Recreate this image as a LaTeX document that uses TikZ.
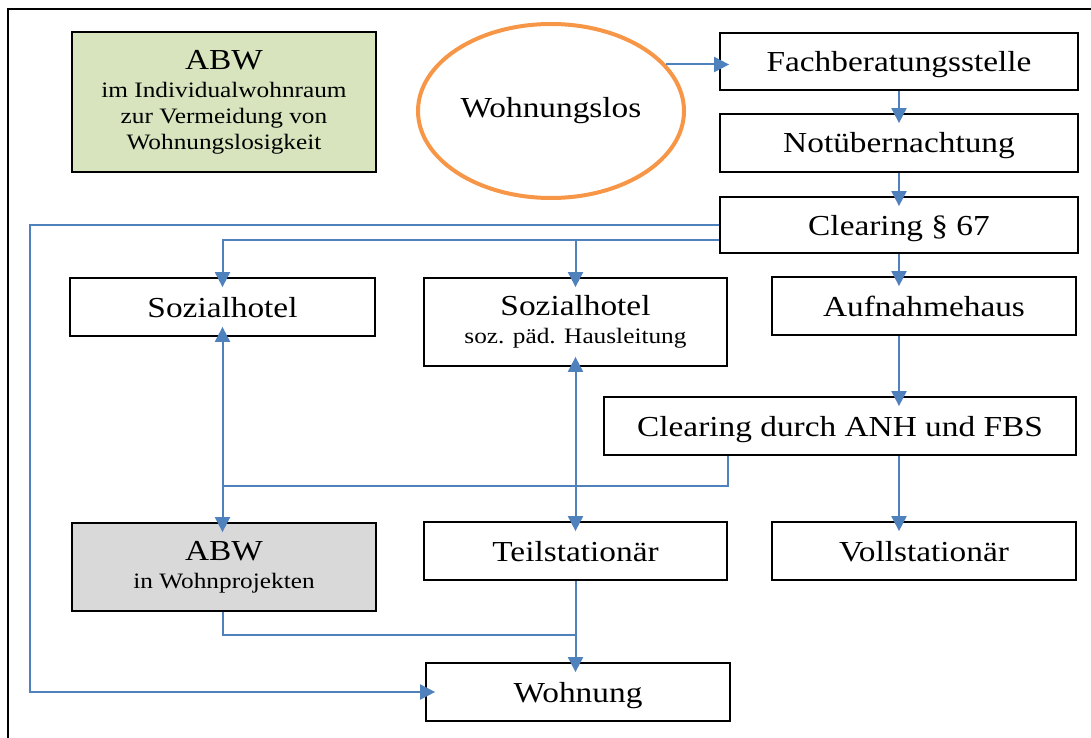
\documentclass[tikz,border=0pt]{standalone}
\usepackage{fontspec}
\setmainfont[FakeStretch=1.15]{Liberation Serif}
\usetikzlibrary{arrows.meta,shapes.geometric,calc}
\definecolor{lblue}{HTML}{4F81BD}
\definecolor{orng}{HTML}{F79646}
\definecolor{abwgreen}{HTML}{D7E4BD}
\definecolor{abwgray}{HTML}{D9D9D9}
\newcommand{\bigf}{\fontsize{29}{34}\selectfont}
\newcommand{\smallf}{\fontsize{22}{26}\selectfont}
\begin{document}
\begin{tikzpicture}[x=1pt,y=-1pt,
  basebox/.style={draw=black,line width=1.8pt,inner sep=0pt,align=center},
  box/.style={basebox,font=\bigf,text height=20pt,text depth=0pt},
  twoline/.style={basebox,font=\smallf},
  conn/.style={draw=lblue,line width=2pt},
  arr/.style={-{Triangle[length=15pt,width=15pt]},shorten >=-10pt},
  darr/.style={{Triangle[length=15pt,width=15pt]}-{Triangle[length=15pt,width=15pt]},shorten >=-10pt,shorten <=-10pt}]
\useasboundingbox (0,0) rectangle (1091,738);
\clip (0,0) rectangle (1091,738);
% outer frame
\draw[line width=2.5pt] (8,745) -- (8,9) -- (1100,9);

% nodes
\node[twoline,fill=abwgreen,minimum width=304pt,minimum height=140pt] (green) at (224,102)
  {{\bigf ABW}\\[2pt]im Individualwohnraum\\zur Vermeidung von\\Wohnungslosigkeit};
\node[ellipse,draw=orng,line width=4pt,minimum width=266pt,minimum height=174pt,inner sep=0pt,font=\bigf] (ell) at (551,111) {Wohnungslos};
\node[box,minimum width=358pt,minimum height=57pt] (fach) at (899,61.5) {Fachberatungsstelle};
\node[box,minimum width=358pt,minimum height=58pt] (not) at (899,143) {Notübernachtung};
\node[box,minimum width=358pt,minimum height=56pt] (c67) at (899,225) {Clearing § 67};
\node[box,minimum width=305pt,minimum height=58pt] (soz1) at (222.5,307) {Sozialhotel};
\node[twoline,minimum width=303pt,minimum height=88pt] (soz2) at (575.5,322) {{\bigf Sozialhotel}\\[2pt]soz. päd. Hausleitung};
\node[box,minimum width=304pt,minimum height=58pt] (auf) at (924,306) {Aufnahmehaus};
\node[box,minimum width=472pt,minimum height=58pt] (anh) at (840,426) {Clearing durch ANH und FBS};
\node[twoline,fill=abwgray,minimum width=304pt,minimum height=88pt] (abw2) at (224,567) {{\bigf ABW}\\[2pt]in Wohnprojekten};
\node[box,minimum width=303pt,minimum height=58pt] (teil) at (575.5,551) {Teilstationär};
\node[box,minimum width=304pt,minimum height=58pt] (voll) at (924,551) {Vollstationär};
\node[box,minimum width=304pt,minimum height=58pt] (wohn) at (578,692) {Wohnung};

% helper coordinates
\coordinate (L) at (30,400);
\coordinate (c67b) at ($(c67.west)+(0,15)$);
\coordinate (anhb) at ($(anh.south west)+(125,0)$);
\coordinate (J) at (222.5,486);
\coordinate (J2) at (575.5,635);

% connectors
\draw[conn,arr] (ell.22.6) -- (ell.22.6 -| fach.west);
\draw[conn,arr] (fach.south) -- (not.north);
\draw[conn,arr] (not.south) -- (c67.north);
\draw[conn,arr] (c67.south) -- (c67.south |- auf.north);
\draw[conn,arr] (c67.south |- auf.south) -- (c67.south |- anh.north);
\draw[conn,arr] (c67.south |- anh.south) -- (c67.south |- voll.north);
\draw[conn,arr] (c67.west) -- (c67.west -| L) -- (L |- wohn.west) -- (wohn.west);
\draw[conn,arr] (c67b) -| (soz1.north);
\draw[conn,arr] (c67b -| soz2.north) -- (soz2.north);
\draw[conn] (anhb) |- (J);
\draw[conn,darr] (soz1.south) -- (soz1.south |- abw2.north);
\draw[conn,darr] (soz2.south) -- (teil.north);
\draw[conn] (abw2.south -| soz1.south) |- (J2);
\draw[conn,arr] (teil.south) -- (teil.south |- wohn.north);
\end{tikzpicture}
\end{document}
